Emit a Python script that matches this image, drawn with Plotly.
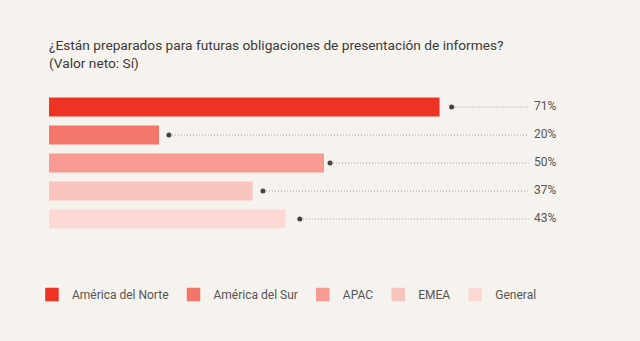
import plotly.graph_objects as go

categories = ["América del Norte", "América del Sur", "APAC", "EMEA", "General"]
values = [71, 20, 50, 37, 43]
labels = ["71%", "20%", "50%", "37%", "43%"]
# leader-line start dots (in % units)
dot_values = [73.2, 21.8, 51.1, 38.9, 45.6]
colors = ["#ee3224", "#f2766a", "#f69a92", "#f9c3be", "#fcd9d5"]

BG = "#f6f3ee"
LINE_END = 87.2
LABEL_X = 88.2

fig = go.Figure()

for cat, val, col in zip(categories, values, colors):
    fig.add_trace(go.Bar(
        y=[cat], x=[val], orientation="h", name=cat,
        marker=dict(color=col, line=dict(width=0)),
        width=0.68, hoverinfo="skip", showlegend=False,
    ))

# legend-only entries (slightly larger swatches)
for cat, col in zip(categories, colors):
    fig.add_trace(go.Bar(
        y=[cat], x=[None], orientation="h", name=cat,
        marker=dict(color=col, line=dict(width=1.5, color=col)),
        hoverinfo="skip", showlegend=True,
    ))

for cat, dv in zip(categories, dot_values):
    fig.add_trace(go.Scatter(
        x=[dv, LINE_END], y=[cat, cat], mode="lines",
        line=dict(color="#9a9a9a", width=1, dash="1px,2px"),
        showlegend=False, hoverinfo="skip",
    ))
    fig.add_trace(go.Scatter(
        x=[dv], y=[cat], mode="markers",
        marker=dict(color="#444444", size=5),
        showlegend=False, hoverinfo="skip",
    ))

fig.add_trace(go.Scatter(
    x=[LABEL_X] * len(categories), y=categories, mode="text",
    text=labels, textposition="middle right",
    textfont=dict(family="Roboto", size=12, color="#555555"),
    showlegend=False, hoverinfo="skip",
))

fig.add_annotation(
    text="¿Están preparados para futuras obligaciones de presentación de informes?<br>(Valor neto: Sí)",
    xref="paper", yref="paper", x=0, y=1, xanchor="left", yanchor="bottom",
    xshift=-2, yshift=20, align="left", showarrow=False,
    font=dict(family="Roboto", size=13.7, color="#3a3a3a"),
)

fig.update_layout(
    width=640, height=341,
    paper_bgcolor=BG, plot_bgcolor=BG,
    margin=dict(l=49, r=41, t=93, b=108),
    barmode="overlay",
    showlegend=True,
    legend=dict(
        orientation="h", x=-0.031, xanchor="left", y=-0.336, yanchor="top",
        font=dict(family="Roboto", size=12, color="#555555"),
        traceorder="normal", itemclick=False, itemdoubleclick=False,
        bgcolor="rgba(0,0,0,0)",
    ),
    xaxis=dict(range=[0, 100], visible=False, fixedrange=True),
    yaxis=dict(categoryorder="array", categoryarray=categories,
               autorange="reversed", range=[4.5, -0.5], visible=False, fixedrange=True),
    font=dict(family="Roboto"),
)

fig.write_html("out.html", config={"displayModeBar": False})
